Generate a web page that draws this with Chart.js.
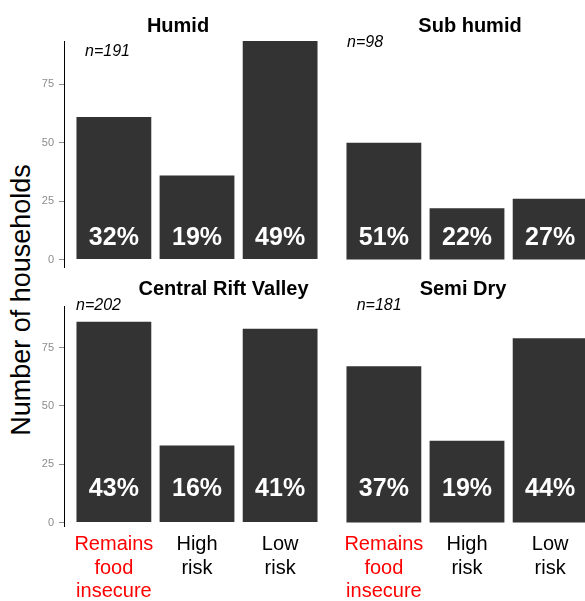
<!DOCTYPE html>
<html>
<head>
<meta charset="utf-8">
<script src="https://cdn.jsdelivr.net/npm/chart.js@4.4.0/dist/chart.umd.min.js"></script>
<style>
    html, body { margin: 0; padding: 0; background: #fff; width: 585px; height: 601px; overflow: hidden; }
    body { position: relative; font-family: "Liberation Sans", Arial, sans-serif; }
    canvas { position: absolute; }
    #ylabel {
        position: absolute; left: 21px; top: 300px;
        transform: translate(-50%, -50%) rotate(-90deg);
        font-size: 27px; white-space: nowrap; color: #000;
    }
</style>
</head>
<body>
<div id="ylabel">Number of households</div>
<canvas id="c1" width="335" height="280" style="left:0;top:0"></canvas>
<canvas id="c2" width="267" height="280" style="left:334px;top:0"></canvas>
<canvas id="c3" width="335" height="321" style="left:0;top:280px"></canvas>
<canvas id="c4" width="267" height="321" style="left:334px;top:280px"></canvas>
<script>
// Datos
const categories = [['Remains', 'food', 'insecure'], ['High', 'risk'], ['Low', 'risk']];
const categoryColors = ['#ff0000', '#000000', '#000000'];
const zones = ['Humid', 'Sub humid', 'Central Rift Valley', 'Semi Dry'];
const sampleSizes = [191, 98, 202, 181];
const humidValues = [61, 36, 94];
const subHumidValues = [50, 22, 26];
const centralRiftValues = [86, 33, 83];
const semiDryValues = [67, 35, 79];
const yTicks = [0, 25, 50, 75];

const fontFamily = '"Liberation Sans", Arial, sans-serif';

// Posiciones de cada panel (pixeles de la pagina)
const panels = [
    { canvas: 'c1', zone: 0, values: humidValues, left: 0, top: 0, yAxis: true, xAxis: false,
      pad: { top: 41, bottom: 13, right: 5 }, yMin: -3.2, yMax: 93.6,
      titleX: 178, titleY: 32, nX: 85, nY: 55.7, pctLift: 15 },
    { canvas: 'c2', zone: 1, values: subHumidValues, left: 334, top: 0, yAxis: false, xAxis: false,
      pad: { top: 41, bottom: 13, right: 1 }, yMin: -3.2, yMax: 93.6,
      titleX: 470, titleY: 32, nX: 347, nY: 46.7, pctLift: 15 },
    { canvas: 'c3', zone: 2, values: centralRiftValues, left: 0, top: 280, yAxis: true, xAxis: true,
      pad: { top: 26, bottom: 0, right: 5 }, yMin: -1.5, yMax: 92.8,
      titleX: 223.5, titleY: 295, nX: 76, nY: 310, pctLift: 26.8 },
    { canvas: 'c4', zone: 3, values: semiDryValues, left: 334, top: 280, yAxis: false, xAxis: true,
      pad: { top: 26, bottom: 0, right: 1 }, yMin: -1.5, yMax: 92.8,
      titleX: 463, titleY: 295, nX: 356.7, nY: 310, pctLift: 26.8 }
];

const textPlugin = {
    id: 'textPlugin',
    afterDatasetsDraw(chart) {
        const cfg = chart.options.plugins.textPlugin;
        const ctx = chart.ctx;
        const values = chart.data.datasets[0].data;
        const n = sampleSizes[cfg.zone];
        const y0 = chart.scales.y.getPixelForValue(0);
        ctx.save();
        // porcentajes dentro de las barras
        ctx.fillStyle = '#ffffff';
        ctx.font = 'bold 25px ' + fontFamily;
        ctx.textAlign = 'center';
        ctx.textBaseline = 'alphabetic';
        values.forEach(item => {
            const x = chart.scales.x.getPixelForValue(item.x);
            ctx.fillText(Math.round(item.y / n * 100) + '%', x, y0 - cfg.pctLift);
        });
        // titulo del panel
        ctx.fillStyle = '#000000';
        ctx.font = 'bold 20px ' + fontFamily;
        ctx.fillText(zones[cfg.zone], cfg.titleX - cfg.left, cfg.titleY - cfg.top);
        // tamano de muestra
        ctx.font = 'italic 16px ' + fontFamily;
        ctx.textAlign = 'left';
        ctx.fillText('n=' + n, cfg.nX - cfg.left, cfg.nY - cfg.top);
        ctx.restore();
    }
};

function crearPanel(p) {
    const ctx = document.getElementById(p.canvas).getContext('2d');
    return new Chart(ctx, {
        type: 'bar',
        data: {
            datasets: [{
                data: p.values.map((v, i) => ({ x: i, y: v })),
                backgroundColor: '#333333',
                borderWidth: 0,
                barPercentage: 0.9,
                categoryPercentage: 1.0
            }]
        },
        options: {
            responsive: false,
            animation: false,
            events: [],
            layout: { padding: { left: 0, right: p.pad.right, top: p.pad.top, bottom: p.pad.bottom } },
            plugins: {
                legend: { display: false },
                tooltip: { enabled: false },
                textPlugin: p
            },
            scales: {
                x: {
                    type: 'linear',
                    min: -0.6,
                    max: 2.6,
                    offset: false,
                    display: p.xAxis,
                    grid: { display: false },
                    border: { display: false },
                    afterBuildTicks: s => { s.ticks = [0, 1, 2].map(v => ({ value: v })); },
                    afterFit: s => { if (p.xAxis) s.height = 75; },
                    ticks: {
                        autoSkip: false,
                        maxRotation: 0,
                        padding: -1,
                        font: { size: 20, family: fontFamily, lineHeight: 1.17 },
                        color: c => categoryColors[c.index],
                        callback: v => categories[v]
                    }
                },
                y: {
                    min: p.yMin,
                    max: p.yMax,
                    display: p.yAxis,
                    afterFit: s => { if (p.yAxis) s.width = 64; },
                    afterBuildTicks: s => { s.ticks = yTicks.map(v => ({ value: v })); },
                    grid: { display: true, drawOnChartArea: false, drawTicks: true, tickLength: 5, color: '#8c8c8c' },
                    border: { display: true, color: '#000000', width: 1 },
                    ticks: { font: { size: 11, family: fontFamily }, color: '#8c8c8c', padding: 5 }
                }
            }
        },
        plugins: [textPlugin]
    });
}

panels.forEach(crearPanel);
</script>
</body>
</html>
